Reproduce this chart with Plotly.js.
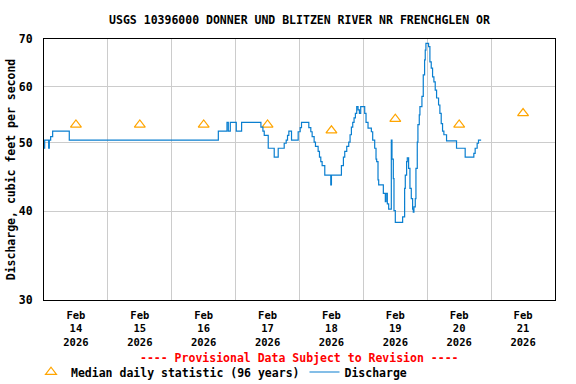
<!DOCTYPE html>
<html>
<head>
<meta charset="utf-8">
<script src="https://cdn.plot.ly/plotly-3.0.1.min.js"></script>
<style>html,body{margin:0;padding:0;background:#fff}#chart{width:576px;height:384px}</style>
</head>
<body>
<div id="chart"></div>
<script>
// Discharge (cfs), 15-minute record, change points (step line)
const dischargeTimes = [
  '2026-02-14 00:00','2026-02-14 00:15','2026-02-14 01:45','2026-02-14 02:00','2026-02-14 02:30','2026-02-14 03:15','2026-02-14 09:30',
  '2026-02-16 17:30','2026-02-16 20:45','2026-02-16 21:15','2026-02-16 22:00',
  '2026-02-17 00:15','2026-02-17 02:15','2026-02-17 09:30','2026-02-17 10:15','2026-02-17 10:45','2026-02-17 12:15','2026-02-17 14:30',
  '2026-02-17 16:00','2026-02-17 18:15','2026-02-17 19:00','2026-02-17 19:30','2026-02-17 20:00','2026-02-17 21:00','2026-02-17 23:30',
  '2026-02-18 00:15','2026-02-18 00:45','2026-02-18 03:30','2026-02-18 04:15','2026-02-18 04:45','2026-02-18 05:30','2026-02-18 06:00',
  '2026-02-18 07:00','2026-02-18 07:30','2026-02-18 08:00','2026-02-18 08:30','2026-02-18 09:30','2026-02-18 11:45','2026-02-18 12:00',
  '2026-02-18 15:45','2026-02-18 16:30','2026-02-18 17:00','2026-02-18 17:45','2026-02-18 18:30','2026-02-18 19:00','2026-02-18 19:30',
  '2026-02-18 20:00','2026-02-18 20:30','2026-02-18 21:00','2026-02-18 21:30','2026-02-18 22:00','2026-02-18 22:30','2026-02-18 23:00',
  '2026-02-19 00:30','2026-02-19 01:00','2026-02-19 01:45','2026-02-19 03:00','2026-02-19 03:30','2026-02-19 04:15','2026-02-19 04:45',
  '2026-02-19 05:00','2026-02-19 05:30','2026-02-19 05:45','2026-02-19 07:30','2026-02-19 08:15','2026-02-19 08:30','2026-02-19 09:00',
  '2026-02-19 09:30','2026-02-19 10:30','2026-02-19 10:45','2026-02-19 11:15','2026-02-19 11:30','2026-02-19 12:00','2026-02-19 14:45',
  '2026-02-19 15:30','2026-02-19 15:45','2026-02-19 16:15','2026-02-19 16:30','2026-02-19 17:00','2026-02-19 17:30','2026-02-19 18:00',
  '2026-02-19 18:30','2026-02-19 18:45','2026-02-19 19:00','2026-02-19 19:30','2026-02-19 19:45','2026-02-19 20:15','2026-02-19 20:30',
  '2026-02-19 21:00','2026-02-19 21:15','2026-02-19 22:00','2026-02-19 22:30','2026-02-19 23:00','2026-02-19 23:15','2026-02-19 23:30',
  '2026-02-20 00:30','2026-02-20 01:00','2026-02-20 01:30','2026-02-20 02:00','2026-02-20 02:30','2026-02-20 03:00','2026-02-20 03:30',
  '2026-02-20 04:15','2026-02-20 04:45','2026-02-20 05:15','2026-02-20 05:45','2026-02-20 06:15','2026-02-20 07:15','2026-02-20 11:00',
  '2026-02-20 14:15','2026-02-20 17:30','2026-02-20 18:00','2026-02-20 18:45','2026-02-20 19:15','2026-02-20 20:15'
];
const dischargeValues = [
  49.1,50.4,49.1,50.4,51.0,51.9,50.4,
  51.9,53.4,51.9,53.4,
  51.9,53.4,52.6,51.9,51.2,49.1,47.7,
  49.1,49.9,50.4,51.2,51.9,50.4,51.8,
  52.5,53.4,52.5,51.8,51.0,50.1,49.4,
  48.6,47.7,47.0,46.4,45.0,43.6,45.0,
  46.4,47.7,48.6,49.4,50.1,51.3,52.6,
  53.4,54.2,55.0,56.2,55.6,55.0,56.2,
  55.0,53.4,52.4,51.8,50.4,49.1,47.4,
  47.0,44.3,43.6,42.4,41.3,42.4,41.0,
  40.3,50.4,47.4,44.5,40.1,38.6,39.3,
  43.1,45.0,47.0,47.6,46.0,43.1,41.7,
  40.3,39.9,40.6,41.7,46.0,50.1,53.0,
  54.7,56.2,58.1,62.3,65.4,67.5,69.0,
  68.3,65.0,63.7,61.9,60.9,59.3,57.8,
  56.5,55.0,53.2,51.9,51.3,50.3,49.1,
  47.7,48.3,49.1,49.9,50.4,50.4
];

// Median daily statistic (96 years)
const medianDates = ['2026-02-14 12:00','2026-02-15 12:00','2026-02-16 12:00','2026-02-17 12:00','2026-02-18 12:00','2026-02-19 12:00','2026-02-20 12:00','2026-02-21 12:00'];
const medianValues = [53, 53, 53, 53, 52, 54, 53, 55];

// Axis ticks
const xTickDates = medianDates;
const xTickLabels = ['Feb<br>14<br>2026','Feb<br>15<br>2026','Feb<br>16<br>2026','Feb<br>17<br>2026','Feb<br>18<br>2026','Feb<br>19<br>2026','Feb<br>20<br>2026','Feb<br>21<br>2026'];
const yTickValues = [30, 40, 50, 60, 70];
const xRange = ['2026-02-14 00:00', '2026-02-22 00:00'];
const yRange = [30, 70];

const FONT = {family: '"DejaVu Sans Mono", monospace', size: 11.5, color: '#000', weight: 'bold'};

const traces = [
  {
    type: 'scatter', mode: 'markers', name: 'Median daily statistic (96 years)',
    x: medianDates, y: medianValues,
    marker: {symbol: 'triangle-up-open', size: 9.5, color: '#ffa500', line: {color: '#ffa500', width: 1.2}},
    hoverinfo: 'skip'
  },
  {
    type: 'scatter', mode: 'lines', name: 'Discharge',
    x: dischargeTimes, y: dischargeValues,
    line: {color: '#0a7fd0', width: 1.2, shape: 'hv'},
    hoverinfo: 'skip'
  }
];

const layout = {
  width: 576, height: 384,
  margin: {l: 44, r: 21, t: 39, b: 84, autoexpand: false},
  paper_bgcolor: '#fff', plot_bgcolor: '#fff',
  font: FONT,
  showlegend: true,
  title: {
    text: 'USGS 10396000 DONNER UND BLITZEN RIVER NR FRENCHGLEN OR',
    font: FONT, x: 0.5, xref: 'paper', y: 1 - 20/384, yref: 'container', yanchor: 'middle'
  },
  xaxis: {
    type: 'date', range: xRange, autorange: false,
    tickmode: 'array', tickvals: xTickDates, ticktext: xTickLabels,
    ticks: '', showgrid: false, zeroline: false,
    showline: true, mirror: true, linecolor: '#000', linewidth: 1,
    tickfont: Object.assign({}, FONT, {size: 10.5}), ticklabelstandoff: 5, automargin: false,
    minor: {tickmode: 'linear', tick0: '2026-02-14 00:00', dtick: 86400000, showgrid: true, gridcolor: '#cccccc', gridwidth: 1, ticks: ''}
  },
  yaxis: {
    type: 'log', range: [Math.log10(yRange[0]), Math.log10(yRange[1])], autorange: false,
    tickmode: 'array', tickvals: yTickValues, ticktext: yTickValues.map(String),
    ticks: '', showgrid: true, gridcolor: '#cccccc', gridwidth: 1, zeroline: false,
    showline: true, mirror: true, linecolor: '#000', linewidth: 1,
    tickfont: FONT, ticklabelstandoff: 8, automargin: false,
    title: {text: 'Discharge, cubic feet per second\u00a0', font: FONT, standoff: 0}
  },
  legend: {
    orientation: 'h', xref: 'container', yref: 'container',
    x: 31/576, xanchor: 'left', y: 1 - 372/384, yanchor: 'middle',
    font: FONT, bgcolor: 'rgba(0,0,0,0)', itemwidth: 30, traceorder: 'normal'
  },
  annotations: [{
    text: '---- Provisional Data Subject to Revision ----',
    xref: 'paper', yref: 'paper', x: 0.5, y: -0.222, xanchor: 'center', yanchor: 'middle',
    showarrow: false, font: {family: FONT.family, size: 11.5, color: '#ff0000', weight: 'bold'}
  }]
};

Plotly.newPlot('chart', traces, layout, {staticPlot: true, displayModeBar: false});
</script>
</body>
</html>
